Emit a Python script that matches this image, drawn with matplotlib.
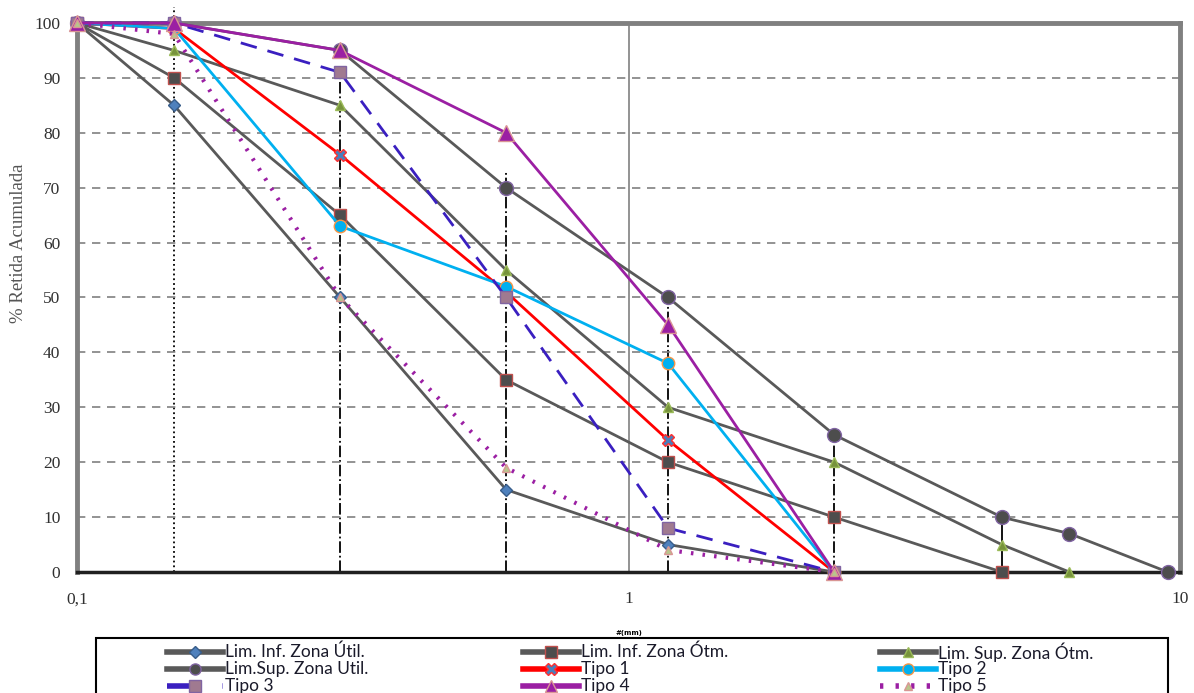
import matplotlib
matplotlib.use("Agg")
import matplotlib.pyplot as plt
from matplotlib.lines import Line2D
from matplotlib.patches import Rectangle
from matplotlib.ticker import FixedLocator, NullLocator

# sieve openings (mm) and cumulative retained (%)
sieves = [0.1, 0.15, 0.3, 0.6, 1.18, 2.36, 4.75, 6.3, 9.5]

lim_inf_util = [100, 85, 50, 15, 5, 0]
lim_inf_otm = [100, 90, 65, 35, 20, 10, 0]
lim_sup_otm = [100, 95, 85, 55, 30, 20, 5, 0]
lim_sup_util = [100, 100, 95, 70, 50, 25, 10, 7, 0]
tipo1 = [100, 99, 76, 51, 24, 0]
tipo2 = [100, 99, 63, 52, 38, 0]
tipo3 = [100, 100, 91, 50, 8, 0]
tipo4 = [100, 100, 95, 80, 45, 0]
tipo5 = [100, 98, 50, 19, 4, 0]

labels = ["Lim. Inf. Zona Útil.", "Lim. Inf. Zona Ótm.", "Lim. Sup. Zona Ótm.",
          "Lim.Sup. Zona Util.", "Tipo 1", "Tipo 2",
          "Tipo 3", "Tipo 4", "Tipo 5"]

# vertical guide lines at the sieves
guide_x = [0.15, 0.3, 0.6, 1.18, 2.36, 4.75]
guide_top = [103, 90, 73, 50, 25, 10]
guide_style = [":", "-.", "-.", "-.", "-.", "-"]

W, H = 1194, 693
fig = plt.figure(figsize=(W / 100, H / 100), dpi=100)
ax = fig.add_axes([77 / W, 1 - 572 / H, 1103 / W, 549 / H])

gray = "#595959"
styles = [
    dict(color=gray, lw=2, marker="D", ms=6, mfc="#4f81bd", mec="#385d8a"),
    dict(color=gray, lw=2, marker="s", ms=9, mfc="#4d4d4d", mec="#c0504d"),
    dict(color=gray, lw=2, marker="^", ms=7, mfc="#77933c", mec="#9bbb59"),
    dict(color=gray, lw=2, marker="o", ms=10, mfc="#4d4d4d", mec="#8064a2"),
    dict(color="#ff0000", lw=2, marker="X", ms=9, mfc="#4a7ebb", mec="#ff3030"),
    dict(color="#00b0f0", lw=2, marker="o", ms=9, mfc="#00b0f0", mec="#f79646"),
    dict(color="#3a1fc0", lw=2, ls=(0, (6, 4)), marker="s", ms=9, mfc="#a07a90", mec="#8064a2"),
    dict(color="#9b1fa3", lw=2, marker="^", ms=11, mfc="#9b1fa3", mec="#d99694"),
    dict(color="#9b1fa3", lw=3, ls=(0, (0.6, 2.2)), marker="^", ms=6, mfc="#b7c68b", mec="#d99694"),
]
series = [lim_inf_util, lim_inf_otm, lim_sup_otm, lim_sup_util,
          tipo1, tipo2, tipo3, tipo4, tipo5]

for x, top, ls in zip(guide_x, guide_top, guide_style):
    ax.plot([x, x], [0, top], color="black", lw=1.3, ls=ls, clip_on=False, zorder=1)

for vals, st, lab in zip(series, styles, labels):
    ax.plot(sieves[:len(vals)], vals, label=lab, zorder=3, clip_on=False, **st)

ax.set_xscale("log")
ax.set_xlim(0.1, 10)
ax.set_ylim(0, 100)
ax.xaxis.set_major_locator(FixedLocator([0.1, 1, 10]))
ax.xaxis.set_minor_locator(NullLocator())
ax.set_xticklabels(["0,1", "1", "10"], family="Liberation Serif", fontsize=12.5, color="#303030")
ax.set_yticks(range(0, 101, 10))
ax.set_yticklabels([str(v) for v in range(0, 101, 10)], family="Liberation Serif",
                   fontsize=12.5, color="#303030")
ax.tick_params(length=0)
ax.tick_params(axis="y", pad=12)
ax.tick_params(axis="x", pad=14)

ax.yaxis.grid(True, ls=(0, (5, 4)), color="#808080", lw=1.2)
ax.axvline(1, color="#808080", lw=1.2, zorder=0)

for side in ["left", "top", "right"]:
    ax.spines[side].set_color("#808080")
    ax.spines[side].set_linewidth(3.5)
ax.spines["bottom"].set_color("#202020")
ax.spines["bottom"].set_linewidth(2.5)

ax.set_ylabel("% Retida Acumulada", family="Liberation Serif", fontsize=13.5, color="#555555")
ax.yaxis.set_label_coords(-0.045, 0.598)
ax.set_xlabel("#(mm)", fontsize=5, fontweight="bold", labelpad=16)

# legend drawn by hand: box, then 3 columns x 3 rows (row-major like Excel)
fig.patches.append(Rectangle((96 / W, -0.05), 1072 / W, 1 - 638 / H + 0.05,
                             transform=fig.transFigure, fill=False,
                             edgecolor="black", lw=1.5))
col_x = [167, 523, 880]
row_y = [652, 669, 686]
handle_len = 56
for i, (st, lab) in enumerate(zip(styles, labels)):
    x0 = col_x[i % 3]
    y0 = 1 - row_y[i // 3] / H
    st = dict(st)
    st["lw"] = 4
    st["ms"] = min(st["ms"], 8)
    ln = Line2D([x0 / W, (x0 + handle_len) / W], [y0, y0], transform=fig.transFigure,
                markevery=[1], **st)
    mk = Line2D([(x0 + handle_len / 2) / W], [y0], transform=fig.transFigure,
                ls="none", marker=st["marker"], ms=st["ms"], mfc=st["mfc"], mec=st["mec"])
    ln.set_marker("")
    fig.lines.extend([ln, mk])
    fig.text((x0 + handle_len + 2) / W, y0, lab, family="Lato", fontsize=12.5,
             va="center", ha="left", color="#1a1a2a")

fig.savefig("out.png", dpi=100)
